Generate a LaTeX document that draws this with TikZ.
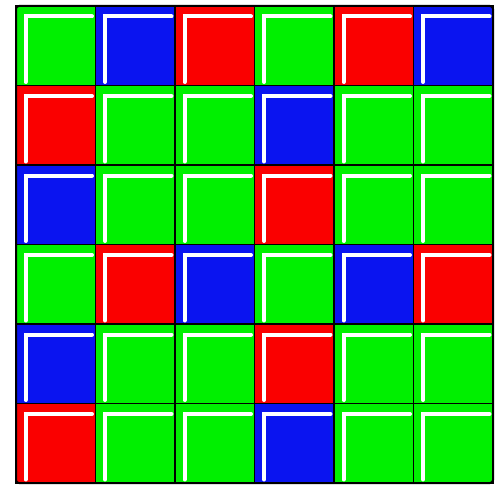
\documentclass[tikz,border=0pt]{standalone}
\definecolor{cg}{RGB}{0,240,0}
\definecolor{cb}{RGB}{10,20,240}
\definecolor{cr}{RGB}{250,0,0}
\tikzset{
  cellbox/.style={draw=black, line width=1.4pt},
  glint/.style={draw=white, line width=4pt, line cap=round},
  frame/.style={draw=black, line width=2pt, rounded corners=3pt}
}
\begin{document}
\begin{tikzpicture}[x=1pt,y=-1pt]
\useasboundingbox (0,0) rectangle (496,487);
\def\cw{79.5}
\foreach \row [count=\j from 0] in {{cg,cb,cr,cg,cr,cb},{cr,cg,cg,cb,cg,cg},{cb,cg,cg,cr,cg,cg},{cg,cr,cb,cg,cb,cr},{cb,cg,cg,cr,cg,cg},{cr,cg,cg,cb,cg,cg}}{
  \foreach \c [count=\i from 0] in \row {
    \pgfmathsetmacro{\xa}{16+\cw*\i}
    \pgfmathsetmacro{\ya}{6+\cw*\j}
    \fill[\c] (\xa,\ya) rectangle ++(\cw,\cw);
    \draw[glint] (\xa+9.5,\ya+76) -- (\xa+9.5,\ya+10.5) -- (\xa+76,\ya+10.5);
    \draw[cellbox] (\xa,\ya) rectangle ++(\cw,\cw);
  }
}
\draw[frame] (16,6) rectangle (493,483);
\end{tikzpicture}
\end{document}
